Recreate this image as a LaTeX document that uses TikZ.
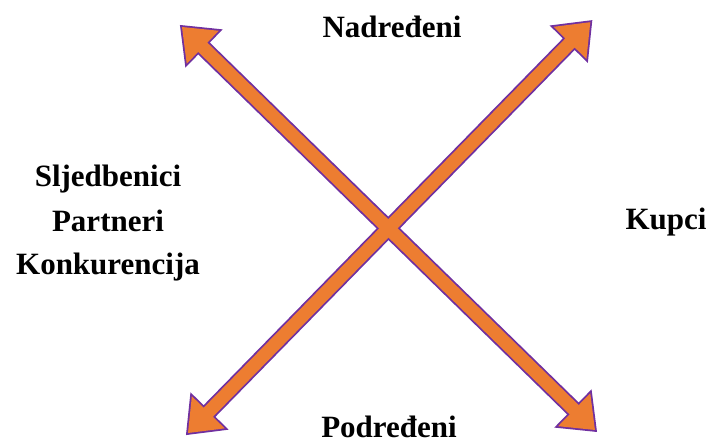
\documentclass[tikz,border=0pt]{standalone}
\usepackage{fontspec}
\setmainfont{Liberation Serif}
\definecolor{arrfill}{HTML}{ED7D31}
\definecolor{arrline}{HTML}{7030A0}
\begin{document}
\begin{tikzpicture}[x=1pt,y=1pt,
  lbl/.style={inner sep=0pt,anchor=base,font=\fontsize{31}{37}\selectfont\bfseries},
  arrshape/.style={line join=miter}]
\useasboundingbox (0,0) rectangle (709,444);
\coordinate (a1) at (182,417);
\coordinate (b1) at (595,14);
\coordinate (a2) at (188,11);
\coordinate (b2) at (590,422);
\def\dblarrow#1{%
  (0,0) -- (29,23) -- (29,6.5) -- (#1-29,6.5) -- (#1-29,23) -- (#1,0)
  -- (#1-29,-23) -- (#1-29,-6.5) -- (29,-6.5) -- (29,-23) -- cycle}
% outlines first
\draw[arrshape,draw=arrline,line width=3.6pt,shift={(a1)},rotate=-44.3] \dblarrow{577};
\draw[arrshape,draw=arrline,line width=3.6pt,shift={(a2)},rotate=45.6] \dblarrow{575};
% fills
\fill[arrfill,shift={(a1)},rotate=-44.3] \dblarrow{577};
\fill[arrfill,shift={(a2)},rotate=45.6] \dblarrow{575};
% labels
\node[lbl] (nad) at (392,406) {Nadređeni};
\node[lbl] (pod) at (389,6) {Podređeni};
\node[lbl] (kup) at (666,214) {Kupci};
\node[lbl] (slj) at (108,257) {Sljedbenici};
\node[lbl] (par) at (108,212) {Partneri};
\node[lbl] (kon) at (108,169) {Konkurencija};
\end{tikzpicture}
\end{document}
